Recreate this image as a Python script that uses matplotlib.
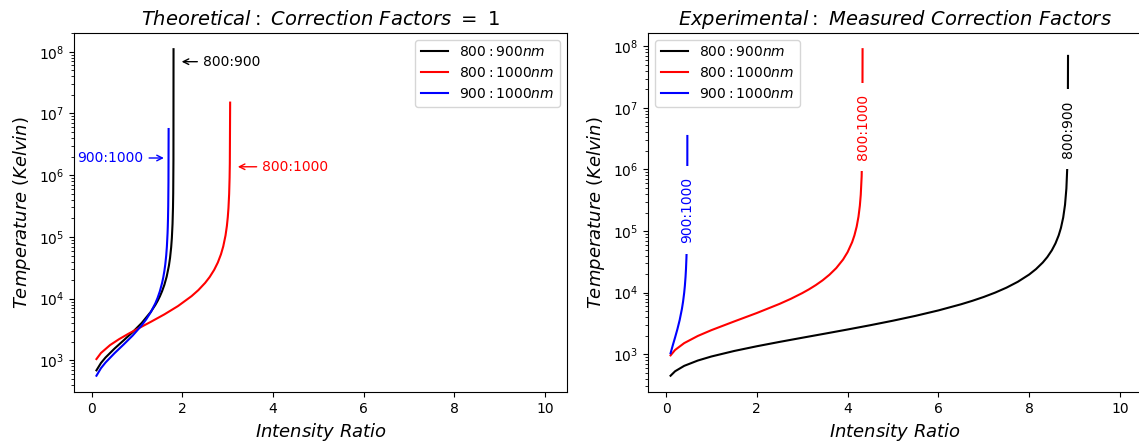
import matplotlib
matplotlib.use("Agg")
import matplotlib.pyplot as plt

# ---- data (x = intensity ratio, T in Kelvin) ----
# Theoretical panel
th_8090_x = [0.1, 0.2, 0.3, 0.5, 0.7, 0.9, 1.1, 1.3, 1.4, 1.45, 1.5, 1.55, 1.6, 1.65, 1.7, 1.725, 1.75, 1.765,
             1.78, 1.79, 1.795, 1.8, 1.802]
th_8090_T = [691, 909, 1114, 1558, 2113, 2878, 4047, 6118, 7916, 9195, 10890, 13270, 16800, 22680, 34270, 45750,
             68260, 96330, 162700, 299100, 513300, 1.8e6, 1.1e8]

th_80100_x = [0.1, 0.2, 0.4, 0.6, 0.8, 1.0, 1.3, 1.6, 1.9, 2.2, 2.35, 2.5, 2.6, 2.7, 2.78, 2.85, 2.9, 2.95, 2.98,
              3.0, 3.015, 3.03, 3.04, 3.045, 3.052]
th_80100_T = [1052, 1320, 1770, 2211, 2687, 3224, 4215, 5570, 7590, 10990, 13760, 18030, 22440, 29360, 38530,
              52530, 70420, 105800, 150700, 209400, 294800, 497500, 913200, 1.56e6, 1.5e7]

th_90100_x = [0.1, 0.2, 0.3, 0.5, 0.7, 0.9, 1.1, 1.2, 1.3, 1.4, 1.45, 1.5, 1.55, 1.575, 1.6, 1.62, 1.64, 1.655,
              1.67, 1.675, 1.68, 1.685, 1.69, 1.6935]
th_90100_T = [565, 749, 924, 1311, 1810, 2529, 3706, 4641, 6048, 8403, 10300, 13180, 18060, 22040, 28150, 36040,
              49810, 69550, 114400, 145600, 199600, 317800, 772500, 5.6e6]

# Experimental panel
ex_8090_x = [0.1, 0.2, 0.4, 0.7, 1.0, 1.5, 2.0, 2.5, 3.0, 3.5, 4.0, 4.5, 5.0, 5.5, 6.0, 6.5, 6.75, 7.0, 7.25,
             7.5, 7.75, 8.0, 8.15, 8.3, 8.4, 8.5, 8.58, 8.65, 8.7, 8.75, 8.79, 8.82, 8.84, 8.85, 8.856]
ex_8090_T = [446, 527, 645, 787, 916, 1125, 1343, 1580, 1846, 2152, 2514, 2951, 3495, 4194, 5131, 6460, 7356,
             8495, 9985, 12020, 14980, 19650, 24050, 30810, 37790, 48670, 63110, 84910, 112400, 165950, 267100,
             490900, 1.105e6, 2.95e6, 7.0e7]

ex_80100_x = [0.1, 0.2, 0.4, 0.7, 1.0, 1.5, 2.0, 2.5, 2.75, 3.0, 3.15, 3.3, 3.45, 3.6, 3.75, 3.9, 4.0, 4.1,
              4.15, 4.2, 4.24, 4.27, 4.29, 4.31, 4.325, 4.33]
ex_80100_T = [955, 1170, 1510, 1974, 2454, 3393, 4657, 6548, 7923, 9801, 11300, 13240, 15830, 19490, 25010,
              34390, 45380, 65880, 84720, 118000, 171200, 257800, 387600, 776900, 3.11e6, 9.0e7]

ex_90100_x = [0.1, 0.15, 0.2, 0.25, 0.3, 0.35, 0.375, 0.4, 0.415, 0.43, 0.44, 0.45, 0.455, 0.46, 0.465, 0.468,
              0.4695, 0.47]
ex_90100_T = [1033, 1400, 1871, 2533, 3561, 5424, 7081, 9913, 12840, 17980, 24240, 36780, 49290, 74340, 149600,
              374900, 1.5e6, 3.5e6]

labels = [r'$800:900nm$', r'$800:1000nm$', r'$900:1000nm$']
colors = ['black', 'red', 'blue']

fig = plt.figure(figsize=(11.39, 4.44), dpi=100)
ax1 = fig.add_axes([0.065, 0.117, 0.433, 0.809])
ax2 = fig.add_axes([0.569, 0.117, 0.434, 0.809])

# LEFT PANEL
ax1.plot(th_8090_x, th_8090_T, color=colors[0], lw=1.5, label=labels[0])
ax1.plot(th_80100_x, th_80100_T, color=colors[1], lw=1.5, label=labels[1])
ax1.plot(th_90100_x, th_90100_T, color=colors[2], lw=1.5, label=labels[2])
ax1.set_yscale('log')
ax1.set_xlim(-0.395, 10.495)
ax1.set_title(r'$Theoretical:\ Correction\ Factors\ =\ 1$', fontsize=14)
ax1.set_xlabel(r'$Intensity\ Ratio$', fontsize=13)
ax1.set_ylabel(r'$Temperature\ (Kelvin)$', fontsize=13)
ax1.legend(loc='upper right', fontsize=10)

ax1.annotate('800:900', xy=(1.92, 6.9e7), xytext=(2.45, 6.9e7), color='black', fontsize=10,
             ha='left', va='center', arrowprops=dict(arrowstyle='->', color='black'))
ax1.annotate('800:1000', xy=(3.16, 1.37e6), xytext=(3.76, 1.37e6), color='red', fontsize=10,
             ha='left', va='center', arrowprops=dict(arrowstyle='->', color='red'))
ax1.annotate('900:1000', xy=(1.65, 1.9e6), xytext=(1.14, 1.9e6), color='blue', fontsize=10,
             ha='right', va='center', arrowprops=dict(arrowstyle='->', color='blue'))

# RIGHT PANEL
ax2.plot(ex_8090_x, ex_8090_T, color=colors[0], lw=1.5, label=labels[0])
ax2.plot(ex_80100_x, ex_80100_T, color=colors[1], lw=1.5, label=labels[1])
ax2.plot(ex_90100_x, ex_90100_T, color=colors[2], lw=1.5, label=labels[2])
ax2.set_yscale('log')
ax2.set_xlim(-0.395, 10.495)
ax2.set_title(r'$Experimental:\ Measured\ Correction\ Factors$', fontsize=14)
ax2.set_xlabel(r'$Intensity\ Ratio$', fontsize=13)
ax2.set_ylabel(r'$Temperature\ (Kelvin)$', fontsize=13)
ax2.legend(loc='upper left', fontsize=10)

# inline labels sitting on the lines (white box hides the line behind)
box = dict(boxstyle='square,pad=0.8', fc='white', ec='none')
ax2.text(0.47, 2.2e5, '900:1000', color='blue', fontsize=10, rotation=90, ha='center', va='center', bbox=box)
ax2.text(4.33, 4.9e6, '800:1000', color='red', fontsize=10, rotation=90, ha='center', va='center', bbox=box)
ax2.text(8.856, 4.5e6, '800:900', color='black', fontsize=10, rotation=90, ha='center', va='center', bbox=box)

plt.savefig('out.png', dpi=100)
